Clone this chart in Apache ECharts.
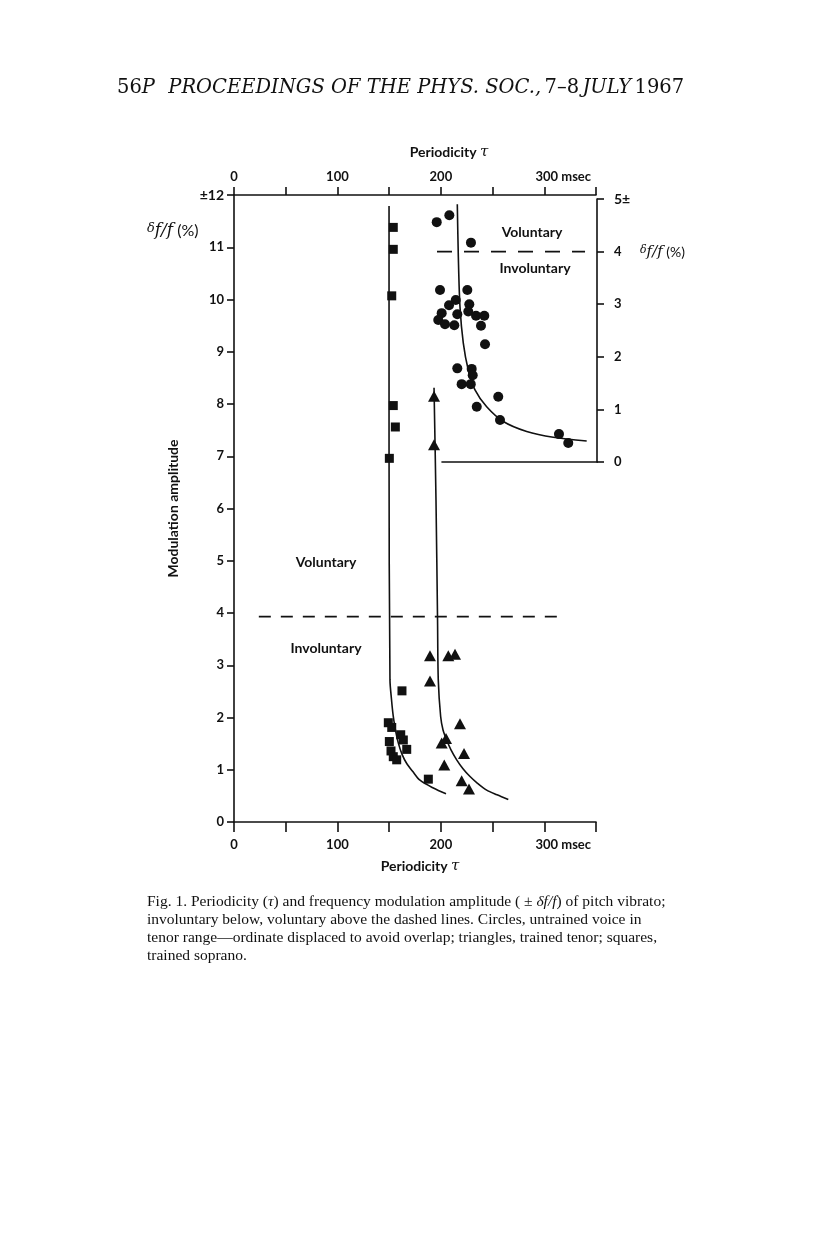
<!DOCTYPE html>
<html><head><meta charset="utf-8">
<script src="https://cdn.jsdelivr.net/npm/echarts@6/dist/echarts.min.js"></script>
<style>html,body{margin:0;padding:0;background:#fff}#c{width:816px;height:1245px}</style>
</head><body><div id="c"></div>
<script>
// ---- data (periodicity in msec, modulation amplitude ±δf/f %) ----
const xLabelValues = [0, 100, 200, 300];
// trained soprano (squares)
const squares = [
  [154.0,11.38],[154.0,10.96],[152.5,10.07],[154.0,7.97],[156.0,7.56],[150.2,6.96],
  [162.4,2.51],[149.2,1.90],[152.5,1.81],[161.2,1.67],[150.2,1.54],[163.7,1.57],
  [167.0,1.39],[151.8,1.36],[154.0,1.25],[157.3,1.19],[187.9,0.82]
];
// trained tenor (triangles)
const triangles = [
  [193.4,8.15],[193.4,7.22],
  [189.5,3.18],[207.2,3.18],[213.7,3.21],[189.5,2.70],[218.5,1.88],[200.8,1.51],
  [205.0,1.60],[222.4,1.31],[203.3,1.09],[220.1,0.79],[227.2,0.63]
];
// untrained tenor (circles) - read on the displaced right-hand ordinate
const circles = [
  [196.0,4.56],[208.2,4.69],[229.1,4.17],[199.2,3.27],[225.6,3.27],[214.4,3.08],
  [207.9,2.98],[227.5,3.00],[200.8,2.83],[215.9,2.81],[226.5,2.86],[234.0,2.78],
  [242.0,2.78],[197.5,2.70],[204.0,2.62],[213.0,2.60],[238.8,2.59],[242.7,2.24],
  [215.9,1.78],[229.8,1.77],[230.8,1.65],[220.1,1.48],[228.9,1.48],[255.5,1.24],
  [234.7,1.05],[257.2,0.80],[314.2,0.53],[323.2,0.36]
];
// fitted curves
const squareCurve = [
  [149.9,11.79],[149.9,7.12],[150.8,2.72],[152.3,2.34],[154.0,2.02],[156.1,1.76],
  [158.9,1.51],[162.4,1.30],[167.0,1.12],[173.1,0.96],[179.8,0.80],[192.7,0.65],[205.0,0.54]
];
const triangleCurve = [
  [193.4,8.31],[195.3,6.16],[196.8,3.87],[197.5,2.72],[199.8,2.02],[202.1,1.76],
  [205.6,1.57],[209.8,1.38],[215.3,1.19],[221.4,1.02],[228.2,0.87],[234.9,0.75],
  [244.3,0.61],[254.3,0.52],[265.2,0.43]
];
const circleCurve = [
  [215.9,4.90],[216.9,3.90],[218.5,2.95],[221.7,2.26],[226.5,1.75],[233.0,1.37],
  [244.3,1.05],[260.4,0.77],[283.0,0.58],[308.7,0.47],[341.0,0.40]
];
const dashMain = [[24,3.93],[313,3.93]];
const dashInset = [[196.3,4.0],[339.4,4.0]];

const INK = '#111';
const SANS = 'Lato';
const SERIF = 'DejaVu Serif';
const CAP = 'Liberation Serif';
const lbl = {color: INK, fontFamily: SANS, fontSize: 13, fontWeight: 'bold'};

function xFmt(v) {
  if (v === 300) return '{p|300 msec}';
  return xLabelValues.indexOf(v) >= 0 ? String(v) : '';
}
const xRich = {p: {padding: [0,0,0,38], color: INK, fontFamily: SANS, fontSize: 13, fontWeight: 'bold'}};
const axLine = {show: true, onZero: false, lineStyle: {color: INK, width: 1.6}};

const chart = echarts.init(document.getElementById('c'), null, {renderer: 'canvas'});
const title = (x, y, t) => ({type: 'text', x: x, y: y, style: {text: t, fill: INK, align: 'center', verticalAlign: 'middle',
  fontFamily: SANS, fontSize: 14, fontWeight: 'bold'}});
const dff = (x, y, s) => ({type: 'text', x: x, y: y, style: {text: '{d|δ}{i|f/f} (%)', fill: INK, verticalAlign: 'middle',
  fontFamily: SANS, fontSize: s,
  rich: {d: {fontFamily: SERIF, fontStyle: 'italic', fontSize: s - 3, fill: INK, verticalAlign: 'top'},
         i: {fontFamily: SERIF, fontStyle: 'italic', fontSize: s + 1, fill: INK}
         }}});
chart.setOption({
  backgroundColor: '#fff',
  animation: false,
  grid: [
    {left: 234, top: 195, width: 362, height: 627},
    {left: 442, right: 219, top: 199, height: 263}
  ],
  xAxis: [
    {gridIndex: 0, type: 'value', position: 'bottom', min: 0, max: 350, interval: 50,
     axisLine: axLine, axisTick: {show: true, inside: false, length: 10, lineStyle: {color: INK, width: 1.6}},
     axisLabel: Object.assign({margin: 16, formatter: xFmt, rich: xRich, showMaxLabel: true}, lbl),
     splitLine: {show: false}},
    {gridIndex: 0, type: 'value', position: 'top', min: 0, max: 350, interval: 50,
     axisLine: axLine, axisTick: {show: true, length: 8, lineStyle: {color: INK, width: 1.6}},
     axisLabel: Object.assign({margin: 12, formatter: xFmt, rich: xRich}, lbl),
     splitLine: {show: false}},
    {gridIndex: 1, type: 'value', position: 'bottom', min: 0, max: 1,
     axisLine: axLine, axisTick: {show: false}, axisLabel: {show: false}, splitLine: {show: false}}
  ],
  yAxis: [
    {gridIndex: 0, type: 'value', position: 'left', min: 0, max: 12, interval: 1,
     name: 'Modulation amplitude', nameLocation: 'middle', nameGap: 54,
     nameTextStyle: {color: INK, fontFamily: SANS, fontSize: 14, fontWeight: 'bold'},
     axisLine: axLine, axisTick: {show: true, length: 7, lineStyle: {color: INK, width: 1.6}},
     axisLabel: Object.assign({margin: 10, formatter: v => v === 12 ? '{b|±12}' : String(v),
       rich: {b: {color: INK, fontFamily: SANS, fontSize: 14, fontWeight: 'bold'}}}, lbl),
     splitLine: {show: false}},
    {gridIndex: 0, type: 'value', show: false, min: -6.844, max: 5.076,
     axisLine: {show: false, onZero: false}, splitLine: {show: false}},
    {gridIndex: 1, type: 'value', position: 'right', min: 0, max: 5, interval: 1,
     axisLine: axLine, axisTick: {show: true, length: 7, lineStyle: {color: INK, width: 1.6}},
     axisLabel: Object.assign({margin: 17, formatter: v => v === 5 ? '{b|5±}' : String(v),
       rich: {b: {color: INK, fontFamily: SANS, fontSize: 14, fontWeight: 'bold'}}}, lbl),
     splitLine: {show: false}}
  ],
  series: [
    {type: 'line', xAxisIndex: 0, yAxisIndex: 0, data: squareCurve, symbol: 'none', smooth: 0.3,
     lineStyle: {color: INK, width: 1.6}},
    {type: 'line', xAxisIndex: 0, yAxisIndex: 0, data: triangleCurve, symbol: 'none', smooth: 0.3,
     lineStyle: {color: INK, width: 1.6}},
    {type: 'line', xAxisIndex: 0, yAxisIndex: 1, data: circleCurve, symbol: 'none', smooth: 0.3,
     lineStyle: {color: INK, width: 1.6}},
    {type: 'line', xAxisIndex: 0, yAxisIndex: 0, data: dashMain, symbol: 'none',
     lineStyle: {color: INK, width: 1.6, type: [12, 10]}},
    {type: 'line', xAxisIndex: 0, yAxisIndex: 1, data: dashInset, symbol: 'none',
     lineStyle: {color: INK, width: 1.6, type: [15, 12]}},
    {type: 'scatter', xAxisIndex: 0, yAxisIndex: 0, data: squares, symbol: 'rect', symbolSize: 9,
     itemStyle: {color: INK, opacity: 1}},
    {type: 'scatter', xAxisIndex: 0, yAxisIndex: 0, data: triangles, symbol: 'triangle', symbolSize: [12, 11],
     itemStyle: {color: INK, opacity: 1}},
    {type: 'scatter', xAxisIndex: 0, yAxisIndex: 1, data: circles, symbol: 'circle', symbolSize: 10,
     itemStyle: {color: INK, opacity: 1}}
  ],
  graphic: [
    {type: 'text', left: 117, top: 78, style: {
      text: '{u|56}{i|P}    {i|PROCEEDINGS OF THE PHYS. SOC.,} {u|7–8} {i|JULY} {u|1967}',
      rich: {
        u: {fontFamily: SERIF, fontSize: 19.5, fill: INK},
        i: {fontFamily: SERIF, fontSize: 19.5, fontStyle: 'italic', fill: INK}
      }}},
    {type: 'text', x: 449, y: 152, style: {text: 'Periodicity {i|τ}', fill: INK, align: 'center', verticalAlign: 'middle',
      fontFamily: SANS, fontSize: 14, fontWeight: 'bold',
      rich: {i: {fontFamily: SERIF, fontStyle: 'italic', fontSize: 15, fill: INK}}}},
    {type: 'text', x: 420, y: 866, style: {text: 'Periodicity {i|τ}', fill: INK, align: 'center', verticalAlign: 'middle',
      fontFamily: SANS, fontSize: 14, fontWeight: 'bold',
      rich: {i: {fontFamily: SERIF, fontStyle: 'italic', fontSize: 15, fill: INK}}}},
    dff(147, 231, 16),
    dff(640, 252, 14),
    title(326, 562, 'Voluntary'),
    title(326, 648, 'Involuntary'),
    title(532, 232, 'Voluntary'),
    title(535, 268, 'Involuntary'),
    {type: 'text', x: 147, y: 902, style: {text: 'Fig. 1. Periodicity ({i|τ}) and frequency modulation amplitude ( ± {i|δf/f}) of pitch vibrato;',
      fill: INK, verticalAlign: 'middle', fontFamily: CAP, fontSize: 15.5,
      rich: {i: {fontFamily: CAP, fontStyle: 'italic', fontSize: 15.5, fill: INK}}}},
    {type: 'text', x: 147, y: 920, style: {text: 'involuntary below, voluntary above the dashed lines. Circles, untrained voice in',
      fill: INK, verticalAlign: 'middle', fontFamily: CAP, fontSize: 15.5}},
    {type: 'text', x: 147, y: 938, style: {text: 'tenor range—ordinate displaced to avoid overlap; triangles, trained tenor; squares,',
      fill: INK, verticalAlign: 'middle', fontFamily: CAP, fontSize: 15.5}},
    {type: 'text', x: 147, y: 956, style: {text: 'trained soprano.',
      fill: INK, verticalAlign: 'middle', fontFamily: CAP, fontSize: 15.5}}
  ]
});
</script></body></html>
